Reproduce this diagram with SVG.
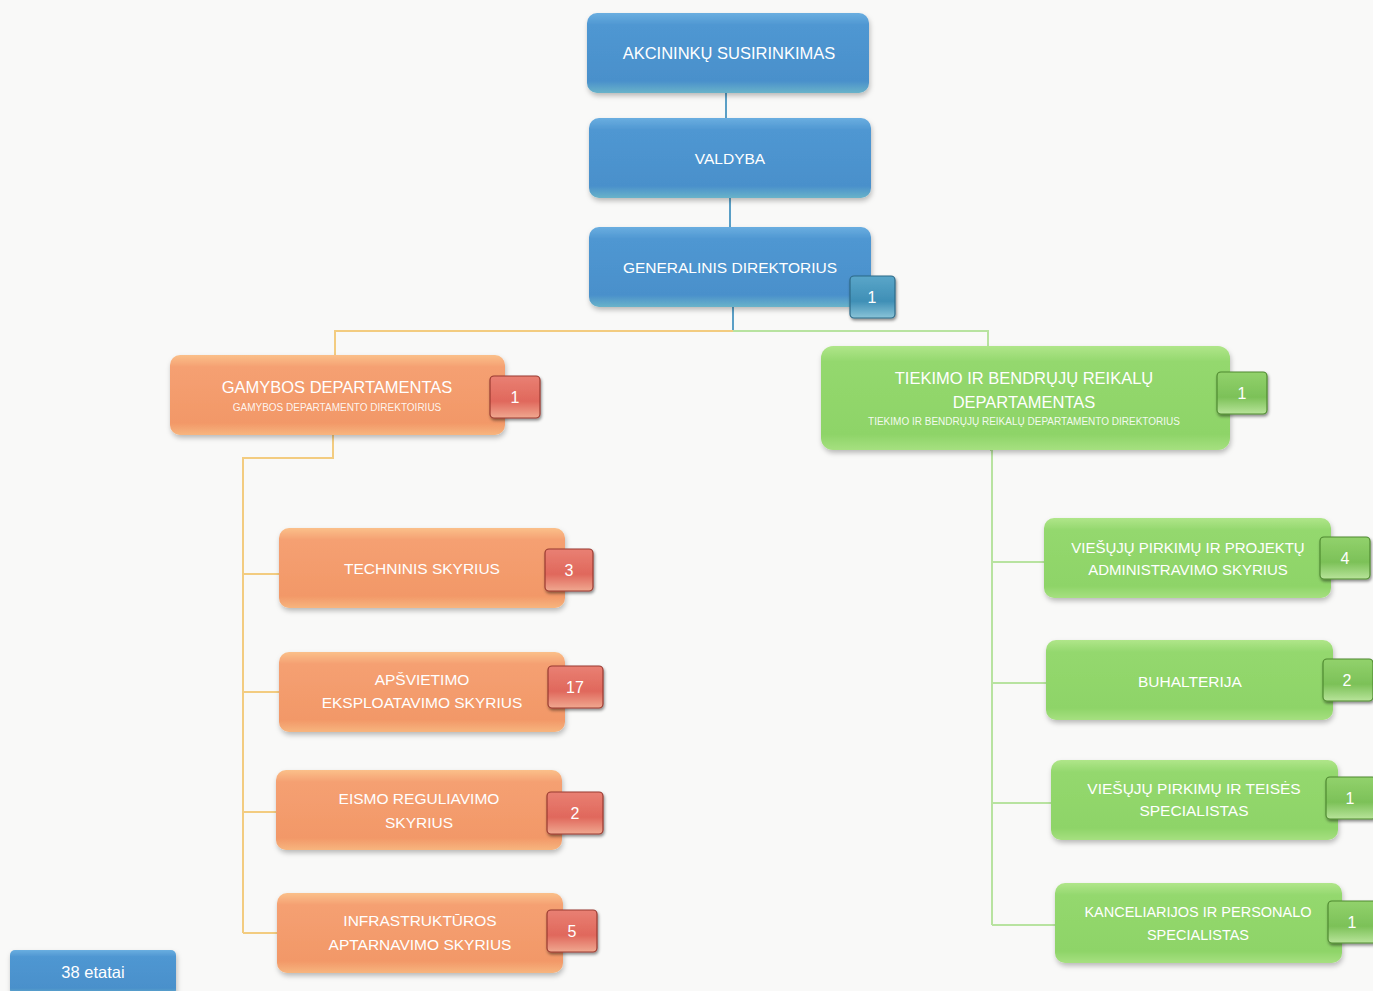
<svg xmlns="http://www.w3.org/2000/svg" width="1373" height="991" viewBox="0 0 1373 991">
<defs>
<linearGradient id="gBlue" x1="0" y1="0" x2="0" y2="1">
<stop offset="0" stop-color="#6aaee0"/><stop offset="0.15" stop-color="#4f97d2"/><stop offset="0.85" stop-color="#4a90cb"/><stop offset="1" stop-color="#69b3c9"/>
</linearGradient>
<linearGradient id="gOrange" x1="0" y1="0" x2="0" y2="1">
<stop offset="0" stop-color="#fbc08a"/><stop offset="0.15" stop-color="#f5a072"/><stop offset="0.85" stop-color="#f29868"/><stop offset="1" stop-color="#f7b57e"/>
</linearGradient>
<linearGradient id="gGreen" x1="0" y1="0" x2="0" y2="1">
<stop offset="0" stop-color="#b0e68a"/><stop offset="0.15" stop-color="#94d86e"/><stop offset="0.85" stop-color="#8ed468"/><stop offset="1" stop-color="#a6e080"/>
</linearGradient>
<linearGradient id="bRed" x1="0" y1="0" x2="0" y2="1">
<stop offset="0" stop-color="#e98073"/><stop offset="0.6" stop-color="#e0685c"/><stop offset="1" stop-color="#f0a890"/>
</linearGradient>
<linearGradient id="bGreen" x1="0" y1="0" x2="0" y2="1">
<stop offset="0" stop-color="#92d26c"/><stop offset="0.6" stop-color="#7cc158"/><stop offset="1" stop-color="#b8e49a"/>
</linearGradient>
<linearGradient id="bBlue" x1="0" y1="0" x2="0" y2="1">
<stop offset="0" stop-color="#5aa6c9"/><stop offset="0.6" stop-color="#3f8fb6"/><stop offset="1" stop-color="#8ac4d8"/>
</linearGradient>
<filter id="sh" x="-10%" y="-20%" width="120%" height="150%">
<feDropShadow dx="1" dy="3" stdDeviation="2.5" flood-color="#000" flood-opacity="0.25"/>
</filter>
<filter id="shb" x="-30%" y="-30%" width="160%" height="170%">
<feDropShadow dx="1" dy="2" stdDeviation="1.5" flood-color="#000" flood-opacity="0.45"/>
</filter>
</defs>
<style>
.t{font-family:"Liberation Sans","Open Sans",sans-serif;fill:#ffffff;text-anchor:middle;font-size:15.5px}
.s{font-family:"Liberation Sans","Open Sans",sans-serif;fill:#ffffff;text-anchor:middle;font-size:10px;fill-opacity:0.9}
.bl{fill:url(#gBlue);filter:url(#sh)}
.or{fill:url(#gOrange);filter:url(#sh)}
.gr{fill:url(#gGreen);filter:url(#sh)}
.br{fill:url(#bRed);stroke:#9a3a30;stroke-width:1.2;filter:url(#shb)}
.bg{fill:url(#bGreen);stroke:#4f8a30;stroke-width:1.2;filter:url(#shb)}
.bb{fill:url(#bBlue);stroke:#2d6a88;stroke-width:1.2;filter:url(#shb)}
.n{font-family:"Liberation Sans","Open Sans",sans-serif;fill:#ffffff;text-anchor:middle;font-size:16px}
.cb{stroke:#5a9fc6;stroke-width:2;fill:none}
.co{stroke:#f3cc80;stroke-width:2;fill:none}
.cg{stroke:#b8e3a0;stroke-width:2;fill:none}
</style>
<rect width="1373" height="991" fill="#f9f9f8"/>
<g id="connectors">
<line class="cb" x1="726" y1="93" x2="726" y2="118"/>
<line class="cb" x1="730" y1="198" x2="730" y2="227"/>
<line class="cb" x1="733" y1="307" x2="733" y2="331"/>
<polyline class="co" points="733,331 335,331 335,355"/>
<polyline class="cg" points="733,331 988,331 988,346"/>
<polyline class="co" points="333,435 333,458 243,458 243,933"/>
<line class="co" x1="243" y1="574" x2="280" y2="574"/>
<line class="co" x1="243" y1="692" x2="280" y2="692"/>
<line class="co" x1="243" y1="812" x2="277" y2="812"/>
<line class="co" x1="243" y1="933" x2="278" y2="933"/>
<polyline class="cg" points="990,450 992,450 992,925"/>
<line class="cg" x1="992" y1="562" x2="1045" y2="562"/>
<line class="cg" x1="992" y1="683" x2="1047" y2="683"/>
<line class="cg" x1="992" y1="803" x2="1052" y2="803"/>
<line class="cg" x1="992" y1="925" x2="1056" y2="925"/>
</g>
<g id="akcininku">
<rect class="bl" x="587" y="13" width="282" height="80" rx="10"/>
<text class="t" x="729" y="59" style="font-size:16.5px">AKCININKŲ SUSIRINKIMAS</text>
</g>
<g id="valdyba">
<rect class="bl" x="589" y="118" width="282" height="80" rx="10"/>
<text class="t" x="730" y="164">VALDYBA</text>
</g>
<g id="generalinis">
<rect class="bl" x="589" y="227" width="282" height="80" rx="10"/>
<text class="t" x="730" y="273">GENERALINIS DIREKTORIUS</text>
<rect class="bb" x="850" y="276" width="45" height="42" rx="4"/>
<text class="n" x="872" y="303">1</text>
</g>
<g id="gamybos">
<rect class="or" x="170" y="355" width="335" height="80" rx="10"/>
<text class="t" x="337" y="393" style="font-size:16.5px">GAMYBOS DEPARTAMENTAS</text>
<text class="s" x="337" y="411">GAMYBOS DEPARTAMENTO DIREKTOIRIUS</text>
<rect class="br" x="490" y="376" width="50" height="42" rx="4"/>
<text class="n" x="515" y="403">1</text>
</g>
<g id="tiekimo">
<rect class="gr" x="821" y="346" width="409" height="104" rx="12"/>
<text class="t" x="1024" y="384" style="font-size:16.5px">TIEKIMO IR BENDRŲJŲ REIKALŲ</text>
<text class="t" x="1024" y="408" style="font-size:16.5px">DEPARTAMENTAS</text>
<text class="s" x="1024" y="425">TIEKIMO IR BENDRŲJŲ REIKALŲ DEPARTAMENTO DIREKTORIUS</text>
<rect class="bg" x="1217" y="372" width="50" height="42" rx="4"/>
<text class="n" x="1242" y="399">1</text>
</g>
<g id="techninis">
<rect class="or" x="279" y="528" width="286" height="80" rx="10"/>
<text class="t" x="422" y="574">TECHNINIS SKYRIUS</text>
<rect class="br" x="545" y="549" width="48" height="42" rx="4"/>
<text class="n" x="569" y="576">3</text>
</g>
<g id="apsvietimo">
<rect class="or" x="279" y="652" width="286" height="80" rx="10"/>
<text class="t" x="422" y="685">APŠVIETIMO</text>
<text class="t" x="422" y="708">EKSPLOATAVIMO SKYRIUS</text>
<rect class="br" x="548" y="666" width="55" height="42" rx="4"/>
<text class="n" x="575" y="693">17</text>
</g>
<g id="eismo">
<rect class="or" x="276" y="770" width="286" height="80" rx="10"/>
<text class="t" x="419" y="804">EISMO REGULIAVIMO</text>
<text class="t" x="419" y="828">SKYRIUS</text>
<rect class="br" x="547" y="792" width="56" height="42" rx="4"/>
<text class="n" x="575" y="819">2</text>
</g>
<g id="infrastrukturos">
<rect class="or" x="277" y="893" width="286" height="80" rx="10"/>
<text class="t" x="420" y="926">INFRASTRUKTŪROS</text>
<text class="t" x="420" y="950">APTARNAVIMO SKYRIUS</text>
<rect class="br" x="547" y="910" width="50" height="42" rx="4"/>
<text class="n" x="572" y="937">5</text>
</g>
<g id="viesuju-projektu">
<rect class="gr" x="1044" y="518" width="287" height="80" rx="10"/>
<text class="t" x="1188" y="553" style="font-size:15px">VIEŠŲJŲ PIRKIMŲ IR PROJEKTŲ</text>
<text class="t" x="1188" y="575" style="font-size:15px">ADMINISTRAVIMO SKYRIUS</text>
<rect class="bg" x="1320" y="537" width="50" height="42" rx="4"/>
<text class="n" x="1345" y="564">4</text>
</g>
<g id="buhalterija">
<rect class="gr" x="1046" y="640" width="287" height="80" rx="10"/>
<text class="t" x="1190" y="687">BUHALTERIJA</text>
<rect class="bg" x="1323" y="659" width="50" height="42" rx="4"/>
<text class="n" x="1347" y="686">2</text>
</g>
<g id="viesuju-teises">
<rect class="gr" x="1051" y="760" width="287" height="80" rx="10"/>
<text class="t" x="1194" y="794">VIEŠŲJŲ PIRKIMŲ IR TEISĖS</text>
<text class="t" x="1194" y="816">SPECIALISTAS</text>
<rect class="bg" x="1326" y="777" width="50" height="42" rx="4"/>
<text class="n" x="1350" y="804">1</text>
</g>
<g id="kanceliarijos">
<rect class="gr" x="1055" y="883" width="287" height="80" rx="10"/>
<text class="t" x="1198" y="917" style="font-size:14.5px">KANCELIARIJOS IR PERSONALO</text>
<text class="t" x="1198" y="940" style="font-size:14.5px">SPECIALISTAS</text>
<rect class="bg" x="1328" y="901" width="50" height="42" rx="4"/>
<text class="n" x="1352" y="928">1</text>
</g>
<g id="etatai">
<rect class="bl" x="10" y="950" width="166" height="45" rx="5"/>
<text class="t" x="93" y="978" style="font-size:16.5px">38 etatai</text>
</g>
</svg>
